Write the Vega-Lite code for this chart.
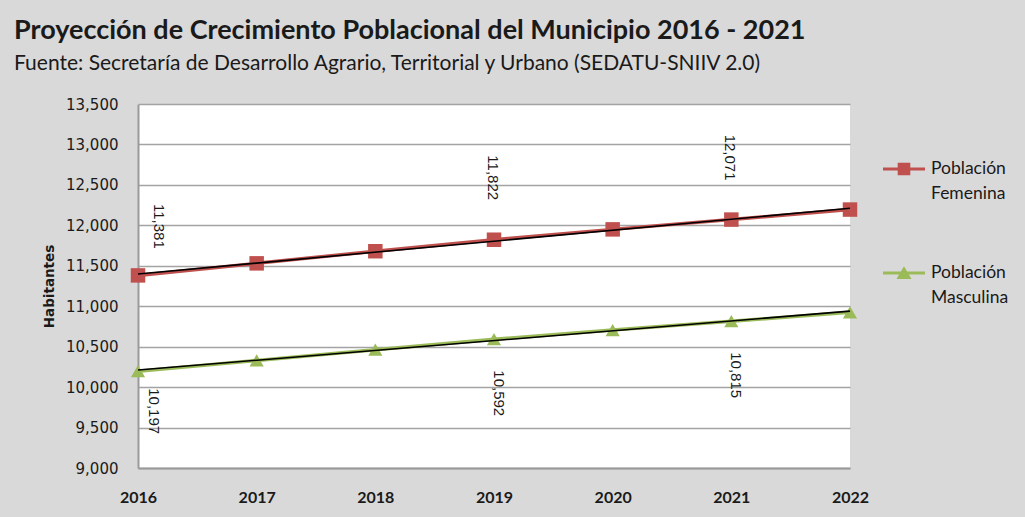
{
  "$schema": "https://vega.github.io/schema/vega-lite/v6.json",
  "width": 712,
  "height": 364,
  "autosize": {"type": "none"},
  "padding": {"left": 138, "top": 104, "right": 175, "bottom": 49},
  "background": "#d9d9d9",
  "title": {
    "text": "Proyección de Crecimiento Poblacional del Municipio 2016 - 2021",
    "subtitle": "Fuente: Secretaría de Desarrollo Agrario, Territorial y Urbano (SEDATU-SNIIV 2.0)",
    "anchor": "start",
    "frame": "group",
    "dx": -124,
    "offset": 22,
    "font": "Lato",
    "fontSize": 27,
    "fontWeight": "bold",
    "color": "#1a1a1a",
    "subtitleFont": "Lato",
    "subtitleFontSize": 21,
    "subtitleColor": "#1a1a1a",
    "subtitlePadding": 8
  },
  "config": {
    "view": {"fill": "white", "stroke": null},
    "axis": {"labelColor": "#1a1a1a", "titleColor": "#1a1a1a"}
  },
  "data": {
    "values": [
      {"year": 2016, "serie": "Población Femenina", "habitantes": 11381},
      {"year": 2017, "serie": "Población Femenina", "habitantes": 11530},
      {"year": 2018, "serie": "Población Femenina", "habitantes": 11680},
      {"year": 2019, "serie": "Población Femenina", "habitantes": 11822},
      {"year": 2020, "serie": "Población Femenina", "habitantes": 11950},
      {"year": 2021, "serie": "Población Femenina", "habitantes": 12071},
      {"year": 2022, "serie": "Población Femenina", "habitantes": 12195},
      {"year": 2016, "serie": "Población Masculina", "habitantes": 10197},
      {"year": 2017, "serie": "Población Masculina", "habitantes": 10330},
      {"year": 2018, "serie": "Población Masculina", "habitantes": 10462},
      {"year": 2019, "serie": "Población Masculina", "habitantes": 10592},
      {"year": 2020, "serie": "Población Masculina", "habitantes": 10705},
      {"year": 2021, "serie": "Población Masculina", "habitantes": 10815},
      {"year": 2022, "serie": "Población Masculina", "habitantes": 10925}
    ]
  },
  "encoding": {
    "x": {
      "field": "year",
      "type": "quantitative",
      "scale": {"domain": [2016, 2022], "nice": false, "zero": false},
      "axis": {
        "values": [2016, 2017, 2018, 2019, 2020, 2021, 2022],
        "format": "d",
        "title": null,
        "grid": false,
        "ticks": false,
        "domainColor": "#9a9a9a",
        "domainWidth": 2,
        "labelFont": "Lato",
        "labelFontWeight": "bold",
        "labelFontSize": 16,
        "labelPadding": 21,
        "labelFlush": false
      }
    },
    "y": {
      "field": "habitantes",
      "type": "quantitative",
      "scale": {"domain": [9000, 13500], "nice": false, "zero": false},
      "axis": {
        "values": [9000, 9500, 10000, 10500, 11000, 11500, 12000, 12500, 13000, 13500],
        "format": ",d",
        "title": "Habitantes",
        "titleFont": "DejaVu Sans",
        "titleFontWeight": "bold",
        "titleFontSize": 13.5,
        "titlePadding": 9,
        "labelFont": "DejaVu Sans",
        "labelFontSize": 15,
        "labelPadding": 20,
        "ticks": false,
        "grid": true,
        "gridColor": "#a3a3a3",
        "gridWidth": 1.3,
        "domainColor": "#9a9a9a",
        "domainWidth": 2
      }
    }
  },
  "layer": [
    {
      "mark": {"type": "line", "strokeWidth": 3.5},
      "encoding": {
        "color": {
          "field": "serie",
          "type": "nominal",
          "scale": {"domain": ["Población Femenina", "Población Masculina"], "range": ["#c0504d", "#9bbb59"]},
          "legend": {
            "orient": "none",
            "legendX": 745,
            "legendY": 44,
            "title": null,
            "labelFont": "Lato",
            "labelFontSize": 17.5,
            "labelColor": "#1a1a1a",
            "labelExpr": "split(datum.label, ' ')",
            "labelOffset": 6,
            "rowPadding": 49,
            "symbolSize": 1764,
            "symbolStrokeWidth": 0,
            "encode": {
              "labels": {
                "update": {"lineHeight": {"value": 25}}
              },
              "symbols": {
                "update": {
                  "shape": {"signal": "datum.value === 'Población Femenina' ? 'M-1,-0.07H1V0.07H-1Z M-0.3,-0.3H0.3V0.3H-0.3Z' : 'M-1,-0.07H1V0.07H-1Z M0,-0.32L0.36,0.28H-0.36Z'"},
                  "fill": {"signal": "datum.value === 'Población Femenina' ? '#c0504d' : '#9bbb59'"},
                  "strokeWidth": {"value": 0},
                  "opacity": {"value": 1}
                }
              }
            }
          }
        }
      }
    },
    {
      "transform": [{"filter": {"field": "serie", "equal": "Población Femenina"}}],
      "mark": {"type": "point", "filled": true, "opacity": 1, "shape": "square", "size": 210},
      "encoding": {"color": {"field": "serie", "type": "nominal", "legend": null}}
    },
    {
      "transform": [{"filter": {"field": "serie", "equal": "Población Masculina"}}],
      "mark": {"type": "point", "filled": true, "opacity": 1, "shape": "triangle-up", "size": 200},
      "encoding": {"color": {"field": "serie", "type": "nominal", "legend": null}}
    },
    {
      "transform": [
        {"regression": "habitantes", "on": "year", "groupby": ["serie"], "extent": [2016, 2022]}
      ],
      "mark": {"type": "line", "color": "black", "strokeWidth": 1.6},
      "encoding": {"detail": {"field": "serie", "type": "nominal"}}
    },
    {
      "transform": [
        {"filter": {"field": "serie", "equal": "Población Femenina"}},
        {"filter": {"field": "year", "oneOf": [2019, 2021]}}
      ],
      "mark": {"type": "text", "angle": 90, "dx": -62, "dy": 1, "font": "Liberation Sans", "fontSize": 15, "color": "#1a1a1a"},
      "encoding": {"text": {"field": "habitantes", "type": "quantitative", "format": ","}}
    },
    {
      "transform": [
        {"filter": {"field": "serie", "equal": "Población Femenina"}},
        {"filter": {"field": "year", "equal": 2016}}
      ],
      "mark": {"type": "text", "angle": 90, "dx": -49, "dy": -21, "font": "Liberation Sans", "fontSize": 15, "color": "#1a1a1a"},
      "encoding": {"text": {"field": "habitantes", "type": "quantitative", "format": ","}}
    },
    {
      "transform": [
        {"filter": {"field": "serie", "equal": "Población Masculina"}},
        {"filter": {"field": "year", "oneOf": [2019, 2021]}}
      ],
      "mark": {"type": "text", "angle": 90, "dx": 54, "dy": -5, "font": "Liberation Sans", "fontSize": 15, "color": "#1a1a1a"},
      "encoding": {"text": {"field": "habitantes", "type": "quantitative", "format": ","}}
    },
    {
      "transform": [
        {"filter": {"field": "serie", "equal": "Población Masculina"}},
        {"filter": {"field": "year", "equal": 2016}}
      ],
      "mark": {"type": "text", "angle": 90, "dx": 40, "dy": -16, "font": "Liberation Sans", "fontSize": 15, "color": "#1a1a1a"},
      "encoding": {"text": {"field": "habitantes", "type": "quantitative", "format": ","}}
    }
  ]
}
